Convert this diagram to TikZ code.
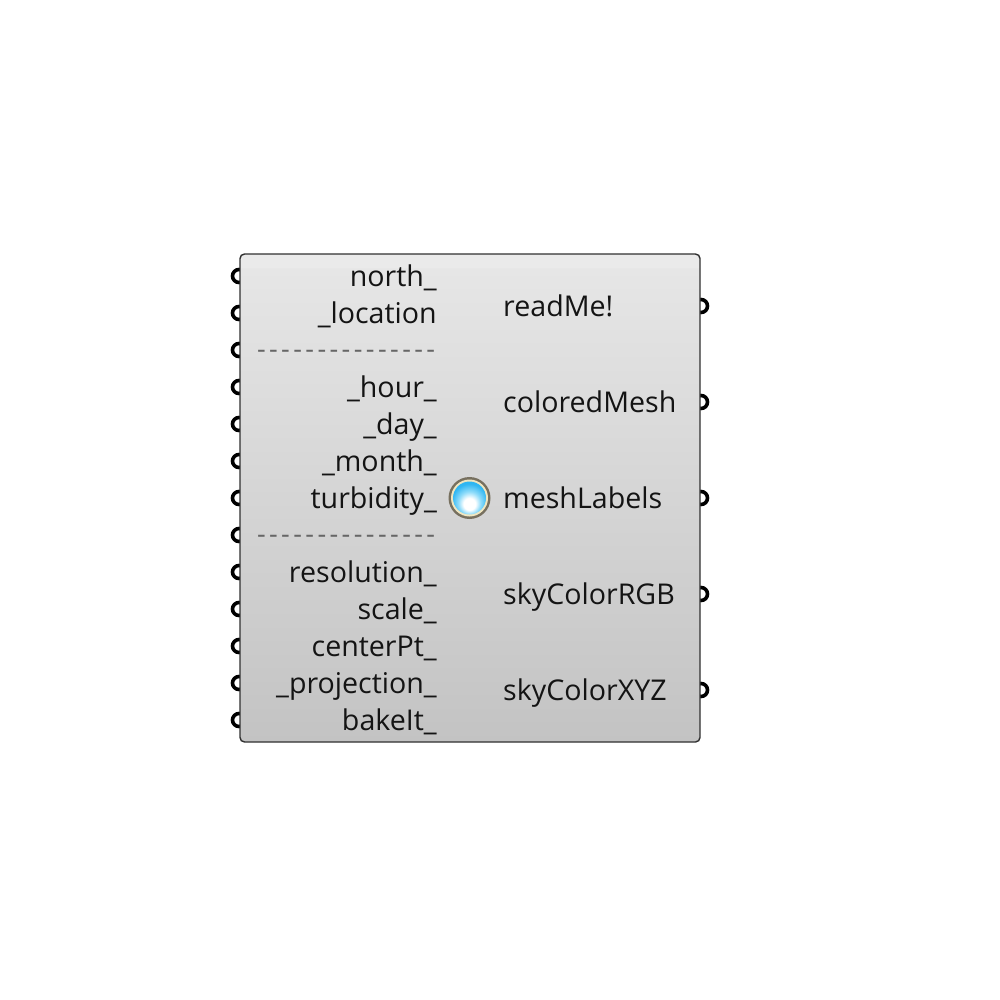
\documentclass[tikz,border=0pt]{standalone}
\usepackage{fontspec}
\setmainfont{Open Sans}
\definecolor{edgec}{HTML}{303030}
\definecolor{bodytop}{HTML}{E6E6E6}
\definecolor{bodybot}{HTML}{C3C3C3}
\definecolor{ringc}{HTML}{77705F}
\definecolor{creamc}{HTML}{F0E6C0}
\definecolor{blueA}{HTML}{2FB6F2}
\definecolor{blueB}{HTML}{8FDCFA}
\pgfdeclareverticalshading{bodyshade}{100bp}{color(0bp)=(bodybot); color(25bp)=(bodybot); color(73.5bp)=(bodytop); color(73.7bp)=(bodytop!82!white); color(100bp)=(bodytop!82!white)}
\pgfdeclareradialshading{ballshade}{\pgfpoint{0bp}{-11bp}}{color(0bp)=(white); color(9bp)=(white); color(17bp)=(blueB); color(27bp)=(blueA); color(33bp)=(blueA); color(52bp)=(blueB)}
\newcommand{\hy}{\makebox[12.1pt][c]{-}}
\tikzset{
 x=1pt,y=-1pt,
 lab/.style={font=\fontsize{28.6}{28.6}\selectfont,text=black!92,inner sep=0pt},
 inlab/.style={lab,anchor=base east},
 outlab/.style={lab,anchor=base west},
 sep/.style={font=\fontsize{27}{27}\selectfont,text=black!60,inner sep=0pt,anchor=base east},
 grip/.style={circle,draw=black,fill=white,line width=3.6pt,minimum size=13pt,inner sep=0pt},
 bodybox/.style={rectangle,rounded corners=4.5pt,draw=edgec,line width=1.4pt,shading=bodyshade,minimum width=460pt,minimum height=488pt,inner sep=0pt},
 ballout/.style={circle,fill=ringc,minimum size=42pt,inner sep=0pt},
 ballmid/.style={circle,fill=creamc,minimum size=37pt,inner sep=0pt},
 ballin/.style={circle,shading=ballshade,minimum size=33pt,inner sep=0pt},
}
\begin{document}
\begin{tikzpicture}
\useasboundingbox (0,0) rectangle (1000,1000);
\fill[white] (0,0) rectangle (1000,1000);
\foreach \i/\y in {1/276,2/313,3/350,4/387,5/424,6/461,7/498,8/535,9/572,10/609,11/646,12/683,13/720}
  \node[grip] (in\i) at (239,\y) {};
\foreach \i/\y in {1/306,2/402,3/498,4/594,5/690}
  \node[grip] (out\i) at (701,\y) {};
\node[bodybox] (body) at (470,498) {};
\node[inlab] (n1) at (437,286) {north\_};
\node[inlab] (n2) at (437,323) {\_location};
\node[sep] (s1) at (437,358) {\hy\hy\hy\hy\hy\hy\hy\hy\hy\hy\hy\hy\hy\hy\hy};
\node[inlab] (n4) at (437,397) {\_hour\_};
\node[inlab] (n5) at (437,434) {\_day\_};
\node[inlab] (n6) at (437,471) {\_month\_};
\node[inlab] (n7) at (437,508) {turbidity\_};
\node[sep] (s2) at (437,543) {\hy\hy\hy\hy\hy\hy\hy\hy\hy\hy\hy\hy\hy\hy\hy};
\node[inlab] (n9) at (437,582) {resolution\_};
\node[inlab] (n10) at (437,619) {scale\_};
\node[inlab] (n11) at (437,656) {centerPt\_};
\node[inlab] (n12) at (437,693) {\_projection\_};
\node[inlab] (n13) at (437,730) {bakeIt\_};
\node[outlab] (o1) at (503,316) {readMe!};
\node[outlab] (o2) at (503,412) {coloredMesh};
\node[outlab] (o3) at (503,508) {meshLabels};
\node[outlab] (o4) at (503,604) {skyColorRGB};
\node[outlab] (o5) at (503,700) {skyColorXYZ};
\node[ballout] (b1) at (469.5,498) {};
\node[ballmid] (b2) at (469.5,498) {};
\node[ballin] (b3) at (469.5,498) {};
\end{tikzpicture}
\end{document}
